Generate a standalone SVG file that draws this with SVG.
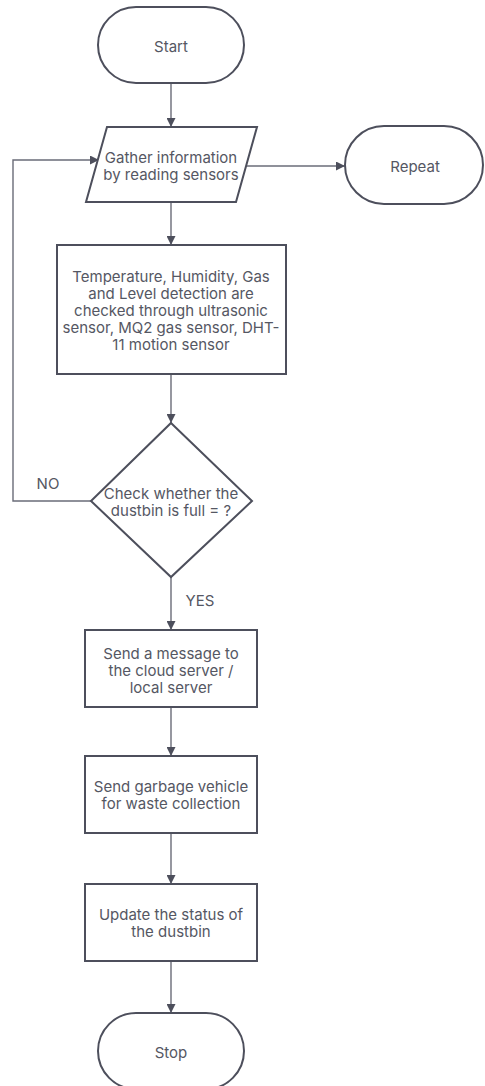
<svg xmlns="http://www.w3.org/2000/svg" width="485" height="1086" viewBox="0 0 485 1086">
<defs>
<style>
.shape{fill:#ffffff;stroke:#4d4f5c;stroke-width:2}
.conn{fill:none;stroke:#6a6c78;stroke-width:1.4}
text{font-family:Inter,"Liberation Sans",sans-serif;font-size:15px;fill:#555763;text-anchor:middle;dominant-baseline:central}
</style>
<marker id="arr" viewBox="0 0 10 10" refX="10" refY="5" markerWidth="9" markerHeight="9" markerUnits="userSpaceOnUse" orient="auto">
<path d="M0,0 L10,5 L0,10 z" fill="#4d4f5c"/>
</marker>
</defs>
<rect width="485" height="1086" fill="#ffffff"/>
<g id="connectors">
<line class="conn" x1="171" y1="83" x2="171" y2="127" marker-end="url(#arr)"/>
<line class="conn" x1="171" y1="202" x2="171" y2="245" marker-end="url(#arr)"/>
<line class="conn" x1="246" y1="166" x2="345" y2="166" marker-end="url(#arr)"/>
<line class="conn" x1="171" y1="374" x2="171" y2="423" marker-end="url(#arr)"/>
<polyline class="conn" points="91,501 13,501 13,160 99,160" marker-end="url(#arr)"/>
<line class="conn" x1="171" y1="577" x2="171" y2="630" marker-end="url(#arr)"/>
<line class="conn" x1="171" y1="707" x2="171" y2="756" marker-end="url(#arr)"/>
<line class="conn" x1="171" y1="833" x2="171" y2="884" marker-end="url(#arr)"/>
<line class="conn" x1="171" y1="961" x2="171" y2="1013" marker-end="url(#arr)"/>
<text x="48" y="483">NO</text>
<text x="200" y="600">YES</text>
</g>
<g id="start">
<rect class="shape" x="98" y="7" width="146" height="76" rx="38"/>
<text x="171" y="46">Start</text>
</g>
<g id="gather">
<polygon class="shape" points="107,127 257,127 236,202 86,202"/>
<text x="171" y="157">Gather information</text>
<text x="171" y="174">by reading sensors</text>
</g>
<g id="repeat">
<rect class="shape" x="345" y="126" width="138" height="78" rx="39"/>
<text x="415" y="166">Repeat</text>
</g>
<g id="detect">
<rect class="shape" x="57" y="245" width="229" height="129"/>
<text x="171" y="276">Temperature, Humidity, Gas</text>
<text x="171" y="293">and Level detection are</text>
<text x="171" y="310">checked through ultrasonic</text>
<text x="171" y="327">sensor, MQ2 gas sensor, DHT-</text>
<text x="171" y="344">11 motion sensor</text>
</g>
<g id="check">
<polygon class="shape" points="171,423 252,501 171,577 91,501"/>
<text x="171" y="493">Check whether the</text>
<text x="171" y="510">dustbin is full = ?</text>
</g>
<g id="message">
<rect class="shape" x="85" y="630" width="172" height="77"/>
<text x="171" y="653">Send a message to</text>
<text x="171" y="670">the cloud server /</text>
<text x="171" y="687">local server</text>
</g>
<g id="vehicle">
<rect class="shape" x="85" y="756" width="172" height="77"/>
<text x="171" y="786">Send garbage vehicle</text>
<text x="171" y="803">for waste collection</text>
</g>
<g id="update">
<rect class="shape" x="85" y="884" width="172" height="77"/>
<text x="171" y="914">Update the status of</text>
<text x="171" y="931">the dustbin</text>
</g>
<g id="stop">
<rect class="shape" x="98" y="1013" width="146" height="76" rx="38"/>
<text x="171" y="1052">Stop</text>
</g>
</svg>
